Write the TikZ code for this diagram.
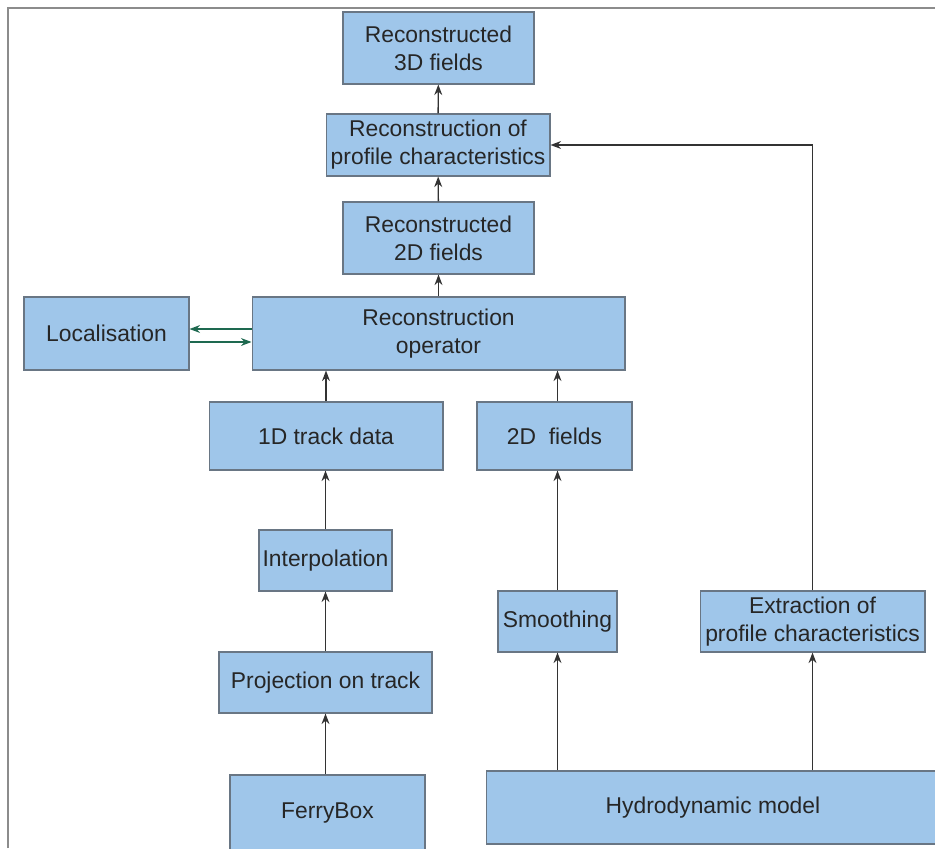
\documentclass[tikz,border=0pt]{standalone}
\usepackage{fontspec}
\setmainfont{Liberation Sans}
\usetikzlibrary{arrows.meta}
\definecolor{boxblue}{RGB}{159,198,234}
\definecolor{boxline}{RGB}{105,118,132}
\definecolor{linkgreen}{RGB}{30,105,80}
\tikzset{
  blk/.style={draw=boxline,fill=boxblue,line width=0.6pt,
              align=center,inner sep=2pt,text=black!85,
              font=\fontsize{13}{16}\selectfont},
  link/.style={draw=black!80,line width=0.8pt,
               -{Stealth[length=6pt,width=4.5pt]}},
  loclink/.style={draw=linkgreen,line width=0.8pt,
                  -{Stealth[length=6pt,width=4.5pt]}}
}
\begin{document}
\begin{tikzpicture}[x=0.02cm,y=-0.02cm]
  \useasboundingbox (0,0) rectangle (935,848);
  % frame
  \draw[black!45,line width=1pt] (8,848) -- (8,8) -- (935,8);

  % top column
  \node[blk,minimum width=3.82cm,minimum height=1.44cm]
    (f3d) at (438.5,48) {Reconstructed\\3D fields};
  \node[blk,minimum width=4.48cm,minimum height=1.24cm]
    (prof) at (438,145) {Reconstruction of\\profile characteristics};
  \node[blk,minimum width=3.82cm,minimum height=1.44cm]
    (f2d) at (438.5,238) {Reconstructed\\2D fields};
  \node[blk,minimum width=3.3cm,minimum height=1.46cm]
    (loc) at (106.5,333.5) {Localisation};
  \node[blk,minimum width=7.46cm,minimum height=1.46cm]
    (op) at (438.5,333.5) {Reconstruction\\operator};

  % inputs
  \node[blk,minimum width=4.68cm,minimum height=1.36cm]
    (track) at (326,436) {1D track data};
  \node[blk,minimum width=3.1cm,minimum height=1.36cm]
    (fld) at (554.5,436) {2D\ \ fields};
  \node[blk,minimum width=2.66cm,minimum height=1.22cm]
    (interp) at (325.5,560.5) {Interpolation};
  \node[blk,minimum width=2.38cm,minimum height=1.22cm]
    (smooth) at (557.5,621.5) {Smoothing};
  \node[blk,minimum width=4.5cm,minimum height=1.22cm]
    (extr) at (812.5,621.5) {Extraction of\\profile characteristics};
  \node[blk,minimum width=4.26cm,minimum height=1.22cm]
    (proj) at (325.5,682.5) {Projection on track};
  \node[blk,minimum width=3.9cm,minimum height=1.52cm]
    (ferry) at (327.5,813) {FerryBox};
  \node[blk,minimum width=9.08cm,minimum height=1.46cm]
    (hydro) at (713,807.5) {Hydrodynamic model};

  % connectors
  \draw[link] (prof) -- (f3d);
  \draw[link] (f2d) -- (prof);
  \draw[link] (op) -- (f2d);
  \draw[link] (track) -- (track |- op.south);
  \draw[link] (fld.north -| smooth) -- (smooth |- op.south);
  \draw[link] (interp) -- (interp |- track.south);
  \draw[link] (proj) -- (proj |- interp.south);
  \draw[link] (proj |- ferry.north) -- (proj);
  \draw[link] (smooth) -- (smooth |- fld.south);
  \draw[link] (smooth |- hydro.north) -- (smooth);
  \draw[link] (extr |- hydro.north) -- (extr);
  \draw[link] (extr.north) |- (prof.east);
  \draw[loclink] ([yshift=0.09cm]op.west) -- ([yshift=0.09cm]loc.east);
  \draw[loclink] ([yshift=-0.17cm]loc.east) -- ([yshift=-0.17cm]op.west);
\end{tikzpicture}
\end{document}
